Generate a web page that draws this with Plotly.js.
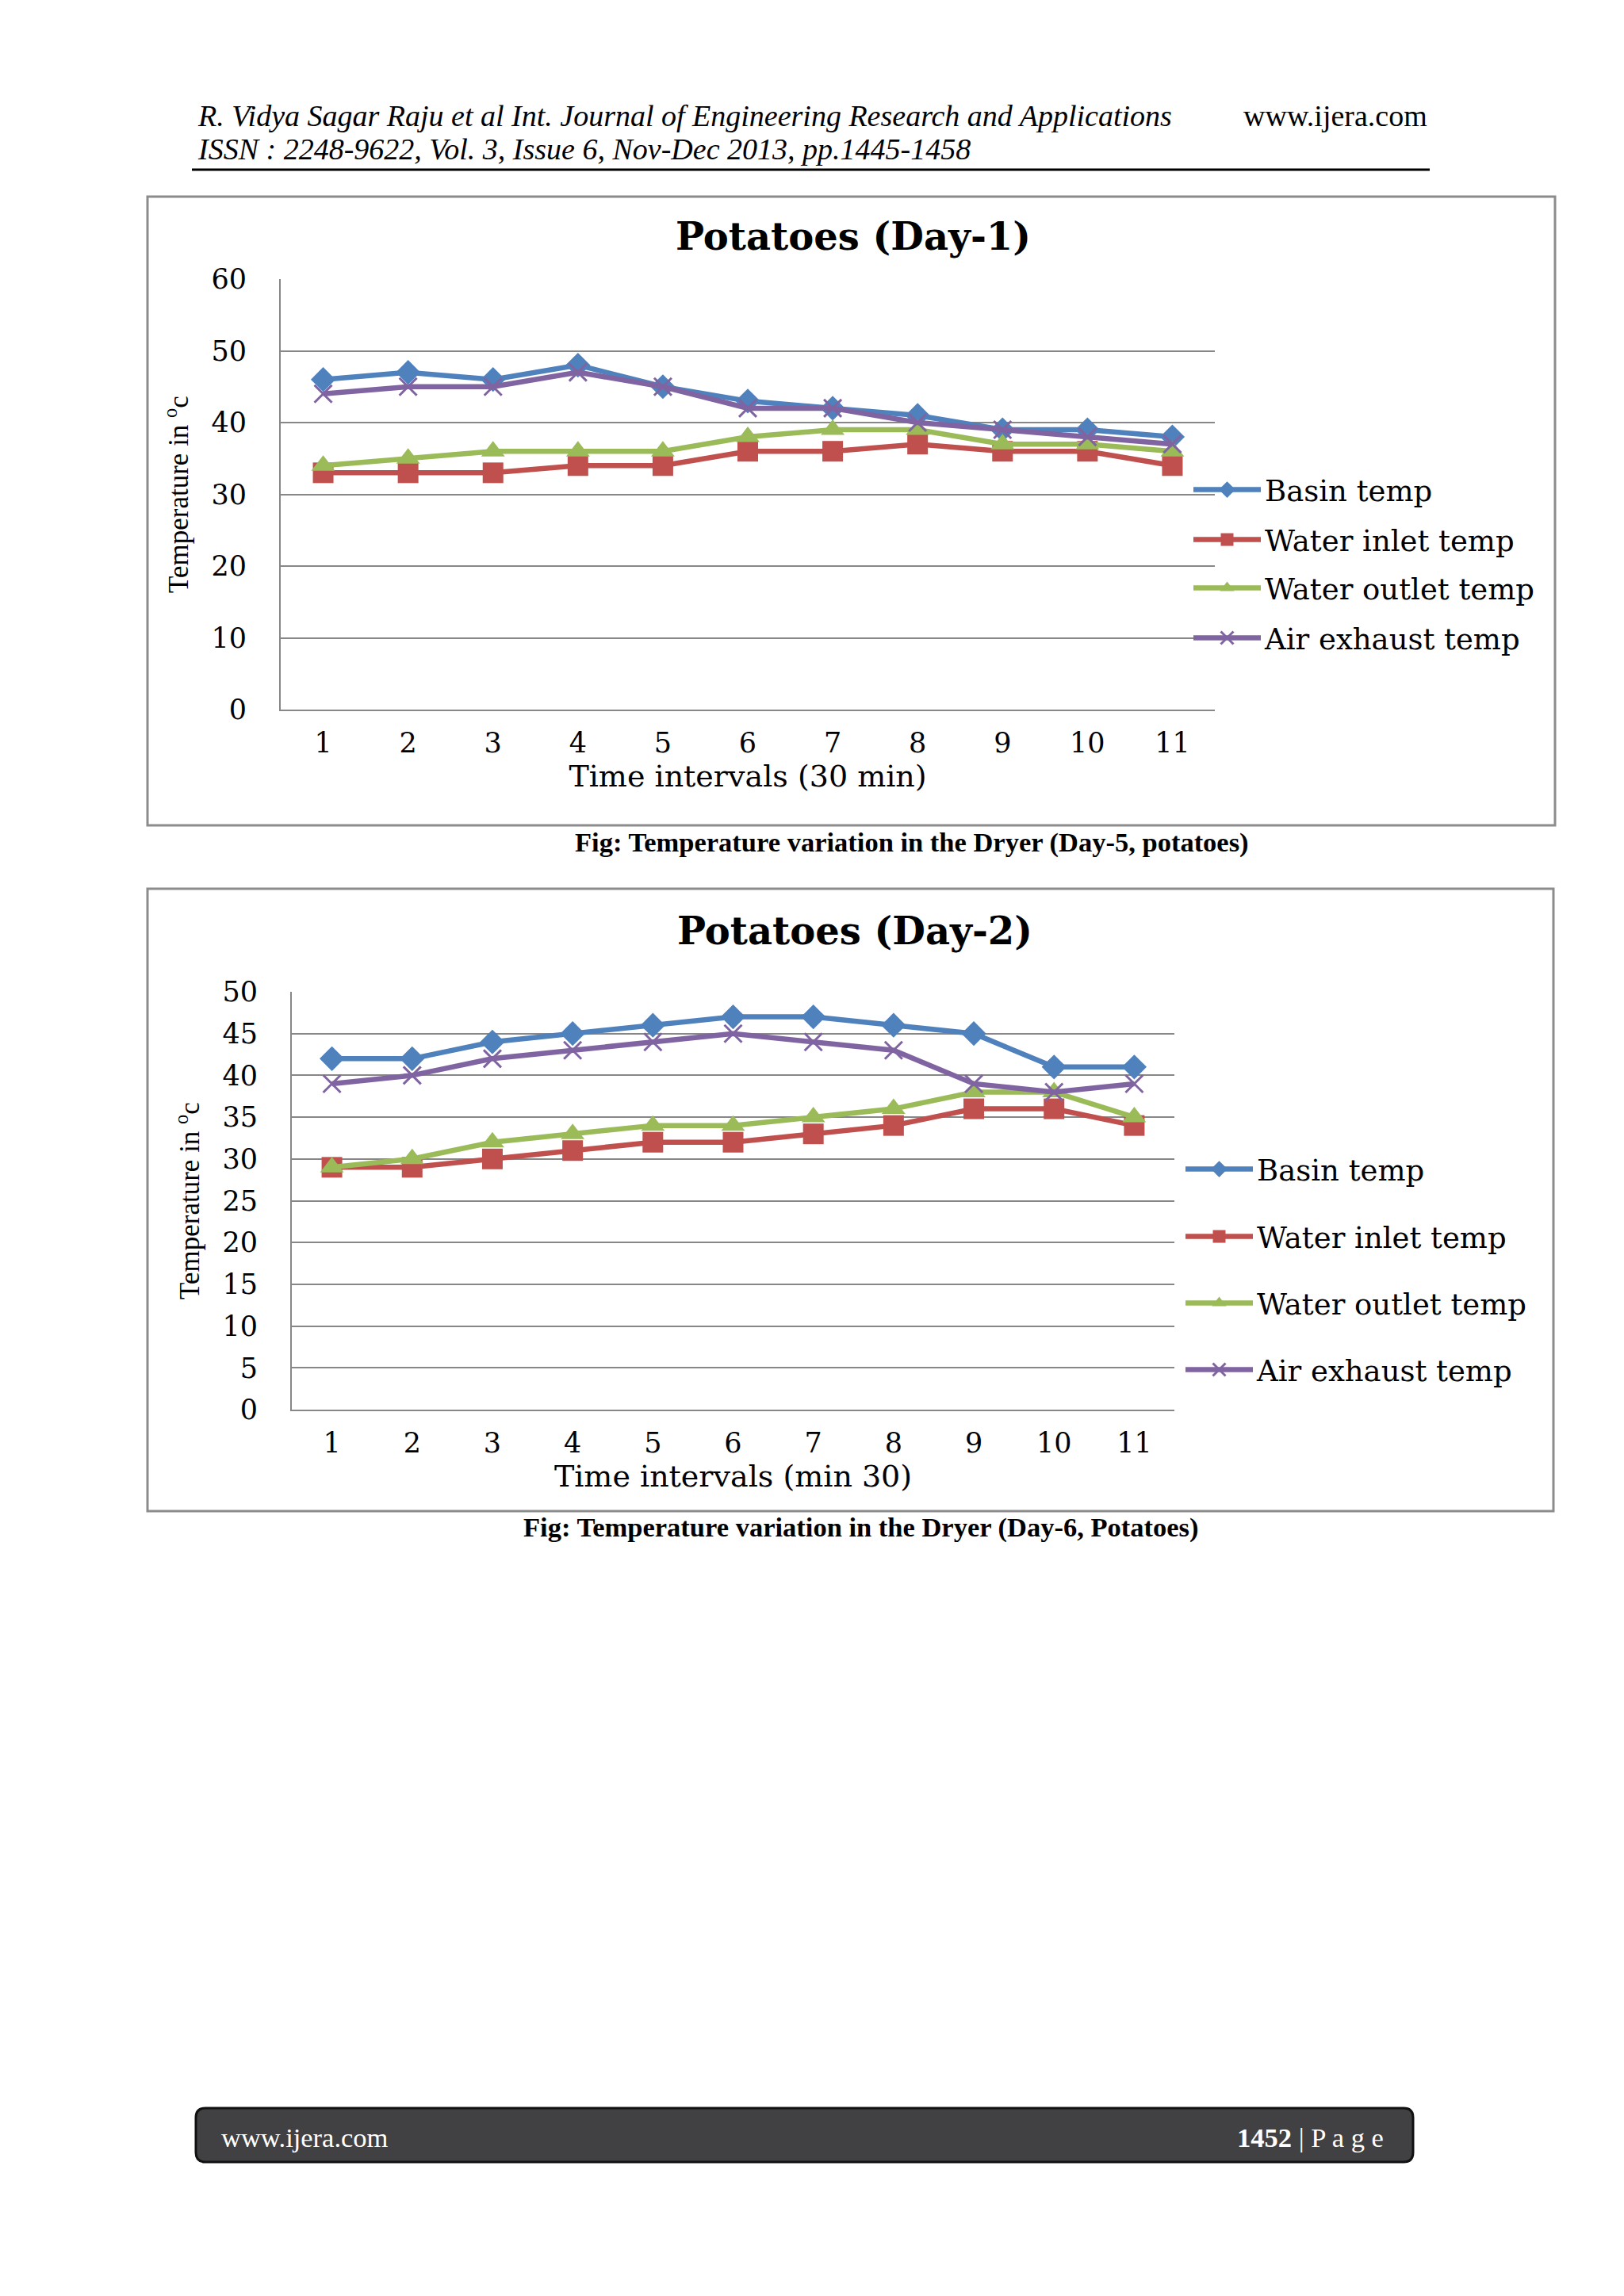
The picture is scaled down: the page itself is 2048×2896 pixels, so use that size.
<!DOCTYPE html>
<html>
<head>
<meta charset="utf-8">
<script src="https://cdn.plot.ly/plotly-3.0.1.min.js"></script>
<style>
  html, body { margin: 0; padding: 0; background: #ffffff; }
  #chart { width: 2048px; height: 2896px; }
</style>
</head>
<body>
<div id="chart"></div>
<script>
// ---------- data ----------
const categories = ['1','2','3','4','5','6','7','8','9','10','11'];
const seriesNames = ['Basin temp', 'Water inlet temp', 'Water outlet temp', 'Air exhaust temp'];

const day1Basin  = [46, 47, 46, 48, 45, 43, 42, 41, 39, 39, 38];
const day1Inlet  = [33, 33, 33, 34, 34, 36, 36, 37, 36, 36, 34];
const day1Outlet = [34, 35, 36, 36, 36, 38, 39, 39, 37, 37, 36];
const day1Air    = [44, 45, 45, 47, 45, 42, 42, 40, 39, 38, 37];

const day2Basin  = [42, 42, 44, 45, 46, 47, 47, 46, 45, 41, 41];
const day2Inlet  = [29, 29, 30, 31, 32, 32, 33, 34, 36, 36, 34];
const day2Outlet = [29, 30, 32, 33, 34, 34, 35, 36, 38, 38, 35];
const day2Air    = [39, 40, 42, 43, 44, 45, 44, 43, 39, 38, 39];

const chart1Title = 'Potatoes (Day-1)';
const chart2Title = 'Potatoes (Day-2)';
const chart1XTitle = 'Time intervals (30 min)';
const chart2XTitle = 'Time intervals (min 30)';
const yTitle = 'Temperature in <sup>o</sup>c';

// ---------- helpers ----------
const W = 2048, H = 2896;
const fx = p => p / W;
const fy = p => 1 - p / H;

const colors = ['#4F81BD', '#C0504D', '#9BBB59', '#8064A2'];
const symbols = ['diamond', 'square', 'triangle-up', 'x-thin'];
const sizes = [24, 26, 26, 22];
const serifWide = 'DejaVu Serif';
const times = 'Liberation Serif';

function makeTrace(y, i, xa, ya, legendId) {
  const isX = symbols[i] === 'x-thin';
  return {
    type: 'scatter', mode: 'lines+markers',
    x: categories, y: y, name: seriesNames[i],
    xaxis: xa, yaxis: ya, legend: legendId,
    line: { color: colors[i], width: 6.5 },
    marker: {
      symbol: symbols[i], size: sizes[i], color: colors[i],
      line: isX ? { color: colors[i], width: 3 } : { width: 0 }
    }
  };
}

const day1 = [day1Basin, day1Inlet, day1Outlet, day1Air];
const day2 = [day2Basin, day2Inlet, day2Outlet, day2Air];
const traces = [];
day1.forEach((s, i) => traces.push(makeTrace(s, i, 'x', 'y', i === 0 ? 'legend' : 'legend' + (i + 1))));
day2.forEach((s, i) => traces.push(makeTrace(s, i, 'x2', 'y2', 'legend' + (i + 5))));

const gridCol = '#878787';
function xAxis(domain, anchor, title) {
  return {
    domain: domain, anchor: anchor, type: 'category', range: [-0.5, 10.5],
    showline: true, linecolor: gridCol, linewidth: 2,
    showgrid: false, zeroline: false, ticks: '',
    ticklabelstandoff: 10,
    tickfont: { family: serifWide, size: 35, color: '#000' },
    title: { text: title, font: { family: serifWide, size: 38, color: '#000' }, standoff: 9 }
  };
}
function yAxis(domain, anchor, range, dtick) {
  return {
    domain: domain, anchor: anchor, range: range, dtick: dtick,
    showline: true, linecolor: gridCol, linewidth: 2,
    showgrid: true, gridcolor: gridCol, gridwidth: 2, zeroline: false, ticks: '',
    ticklabelstandoff: 34,
    tickfont: { family: serifWide, size: 35, color: '#000' },
    title: { text: yTitle, font: { family: times, size: 35, color: '#000' }, standoff: 18 }
  };
}
function legendAt(xp, yp) {
  return {
    x: fx(xp), y: fy(yp), xanchor: 'left', yanchor: 'middle',
    bgcolor: 'rgba(0,0,0,0)', borderwidth: 0, itemwidth: 85,
    font: { family: serifWide, size: 37, color: '#000' }
  };
}

const layout = {
  width: W, height: H,
  margin: { l: 0, r: 0, t: 0, b: 0 },
  paper_bgcolor: '#ffffff', plot_bgcolor: 'rgba(0,0,0,0)',
  showlegend: true,
  xaxis: xAxis([fx(354), fx(1532)], 'y', chart1XTitle),
  yaxis: yAxis([fy(895), fy(352)], 'x', [0, 60], 10),
  xaxis2: xAxis([fx(368), fx(1481)], 'y2', chart2XTitle),
  yaxis2: yAxis([fy(1778), fy(1251)], 'x2', [0, 50], 5),
  legend:  legendAt(1500, 618),
  legend2: legendAt(1500, 681),
  legend3: legendAt(1500, 742),
  legend4: legendAt(1500, 805),
  legend5: legendAt(1490, 1475),
  legend6: legendAt(1490, 1560),
  legend7: legendAt(1490, 1644),
  legend8: legendAt(1490, 1728),
  shapes: [
    { type: 'rect', xref: 'paper', yref: 'paper', x0: fx(186), x1: fx(1961), y0: fy(248), y1: fy(1041),
      line: { color: '#8c8c8c', width: 3 }, fillcolor: 'rgba(0,0,0,0)', layer: 'below' },
    { type: 'rect', xref: 'paper', yref: 'paper', x0: fx(186), x1: fx(1959), y0: fy(1121), y1: fy(1906),
      line: { color: '#8c8c8c', width: 3 }, fillcolor: 'rgba(0,0,0,0)', layer: 'below' },
    { type: 'line', xref: 'paper', yref: 'paper', x0: fx(242), x1: fx(1803), y0: fy(214), y1: fy(214),
      line: { color: '#000', width: 3 } },
    { type: 'path', xref: 'paper', yref: 'paper',
      path: 'M ' + fx(259) + ',' + fy(2659) + ' L ' + fx(1770) + ',' + fy(2659) +
            ' Q ' + fx(1782) + ',' + fy(2659) + ' ' + fx(1782) + ',' + fy(2671) +
            ' L ' + fx(1782) + ',' + fy(2715) +
            ' Q ' + fx(1782) + ',' + fy(2727) + ' ' + fx(1770) + ',' + fy(2727) +
            ' L ' + fx(259) + ',' + fy(2727) +
            ' Q ' + fx(247) + ',' + fy(2727) + ' ' + fx(247) + ',' + fy(2715) +
            ' L ' + fx(247) + ',' + fy(2671) +
            ' Q ' + fx(247) + ',' + fy(2659) + ' ' + fx(259) + ',' + fy(2659) + ' Z',
      fillcolor: '#414042', line: { color: '#111', width: 3 } }
  ],
  annotations: [
    { text: '<b>' + chart1Title + '</b>', x: fx(1076), y: fy(298), xref: 'paper', yref: 'paper',
      xanchor: 'center', yanchor: 'middle', showarrow: false, font: { family: serifWide, size: 48, color: '#000' } },
    { text: '<b>' + chart2Title + '</b>', x: fx(1078), y: fy(1174), xref: 'paper', yref: 'paper',
      xanchor: 'center', yanchor: 'middle', showarrow: false, font: { family: serifWide, size: 48, color: '#000' } },
    { text: '<i>R. Vidya Sagar Raju et al Int. Journal of Engineering Research and Applications</i>',
      x: fx(247), y: fy(146), xref: 'paper', yref: 'paper', xanchor: 'left', yanchor: 'middle', showarrow: false,
      font: { family: times, size: 38, color: '#000' } },
    { text: 'www.ijera.com', x: fx(1566), y: fy(146), xref: 'paper', yref: 'paper', xanchor: 'left', yanchor: 'middle',
      showarrow: false, font: { family: times, size: 38, color: '#000' } },
    { text: '<i>ISSN : 2248-9622, Vol. 3, Issue 6, Nov-Dec 2013, pp.1445-1458</i>',
      x: fx(247), y: fy(188), xref: 'paper', yref: 'paper', xanchor: 'left', yanchor: 'middle', showarrow: false,
      font: { family: times, size: 38, color: '#000' } },
    { text: '<b>Fig: Temperature variation in the Dryer (Day-5, potatoes)</b>',
      x: fx(1150), y: fy(1063), xref: 'paper', yref: 'paper', xanchor: 'center', yanchor: 'middle', showarrow: false,
      font: { family: times, size: 34.5, color: '#000' } },
    { text: '<b>Fig: Temperature variation in the Dryer (Day-6, Potatoes)</b>',
      x: fx(1085), y: fy(1927), xref: 'paper', yref: 'paper', xanchor: 'center', yanchor: 'middle', showarrow: false,
      font: { family: times, size: 34.5, color: '#000' } },
    { text: 'www.ijera.com', x: fx(277), y: fy(2696), xref: 'paper', yref: 'paper', xanchor: 'left', yanchor: 'middle',
      showarrow: false, font: { family: times, size: 34.5, color: '#ffffff' } },
    { text: '<b>1452</b> | P a g e', x: fx(1747), y: fy(2696), xref: 'paper', yref: 'paper', xanchor: 'right', yanchor: 'middle',
      showarrow: false, font: { family: times, size: 34.5, color: '#ffffff' } }
  ]
};

Plotly.newPlot('chart', traces, layout, { staticPlot: true, displayModeBar: false });
</script>
</body>
</html>
